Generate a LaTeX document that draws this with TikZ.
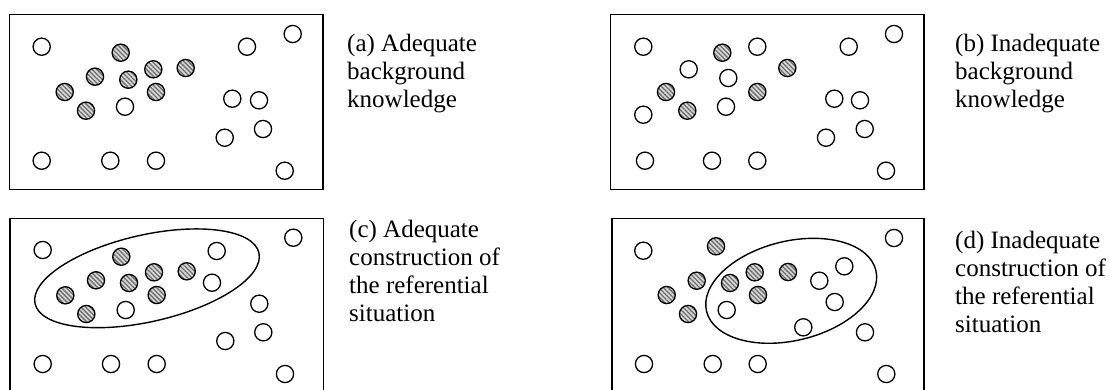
\documentclass[tikz,border=0pt]{standalone}
\usepackage{fontspec}
\setmainfont{Liberation Serif}
\usetikzlibrary{patterns.meta}
\tikzset{
  frame/.style={line width=1.4pt},
  dot/.style={line width=1.3pt},
  hatch/.style={line width=1.3pt,
    preaction={fill=gray!30},
    pattern={Lines[angle=-45,distance=3.2pt,line width=1.3pt]},
    pattern color=gray!85!black},
  ring/.style={line width=1.4pt},
  caption/.style={anchor=north west,inner sep=0pt,align=left,
    font=\fontsize{25}{28}\selectfont}
}
\begin{document}
\begin{tikzpicture}[x=1pt,y=-1pt]
\useasboundingbox (0,0) rectangle (1110,389);
\def\r{8.6}
% ---------- (a)
\draw[frame] (9.5,14.5) rectangle (323,189.5);
\foreach \x/\y in {41.7/46.7, 247/46.7, 292.7/34, 125/106.7, 232.3/98.7, 259/100.3,
  263/129, 224.7/137.7, 41.7/160.7, 110.3/160.7, 156/160.7, 284.7/170.7}
  \draw[dot] (\x,\y) circle[radius=\r];
\foreach \x/\y in {120.7/52.7, 95/76.7, 128.3/79.7, 153.3/69.3, 185.7/68,
  64.7/92, 156/92, 86/110.7}
  \draw[hatch] (\x,\y) circle[radius=\r];
\node[caption] (capa) at (347,34) {(a) Adequate\\background\\knowledge};
% ---------- (b)
\draw[frame] (610.7,14.5) rectangle (924,189.5);
\foreach \x/\y in {643.3/46.7, 757.3/46.7, 848.7/46.7, 894/34, 688.7/69.3, 728.3/78,
  726/106.7, 643.3/114.7, 834.3/98.7, 860/100.3, 864.7/129, 826/137.7,
  645/160.7, 712/160.7, 757.3/160.7, 886/170.7}
  \draw[dot] (\x,\y) circle[radius=\r];
\foreach \x/\y in {722.3/52.7, 787.3/68, 666/92, 757.3/92, 687.3/110.7}
  \draw[hatch] (\x,\y) circle[radius=\r];
\node[caption] (capb) at (955,34) {(b) Inadequate\\background\\knowledge};
% ---------- (c)
\draw[frame] (10,392) -- (10,218.3) -- (323.3,218.3) -- (323.3,392);
\draw[ring] (147,278.3) circle[x radius=114.8pt, y radius=43.4pt, rotate=12.8];
\foreach \x/\y in {42.7/250, 293.3/237.7, 216.7/251, 212/282.7, 125.7/310, 259.3/303.7,
  263.3/332.3, 225.3/341, 42.7/364, 111/364, 156.7/364, 285/374}
  \draw[dot] (\x,\y) circle[radius=\r];
\foreach \x/\y in {121.3/256.7, 96/280.3, 129/283, 154/272.3, 186.7/271.3,
  65.3/295.3, 156.7/295, 86.3/314}
  \draw[hatch] (\x,\y) circle[radius=\r];
\node[caption] (capc) at (349,220) {(c) Adequate\\construction of\\the referential\\situation};
% ---------- (d)
\draw[frame] (612,392) -- (612,218.3) -- (924,218.3) -- (924,392);
\draw[ring] (791.2,290.8) circle[x radius=87.1pt, y radius=49.7pt, rotate=13.6];
\foreach \x/\y in {643.3/250.7, 894/238, 844.3/266.3, 819.3/280.7, 834.7/302, 726.7/310,
  803.3/327.3, 865/332.3, 644/364, 712.7/364, 757.7/364, 886.3/374}
  \draw[dot] (\x,\y) circle[radius=\r];
\foreach \x/\y in {716/246.3, 696.7/280.7, 730/283, 754.7/272.3, 788/272,
  666.7/295, 758/295, 688/314}
  \draw[hatch] (\x,\y) circle[radius=\r];
\node[caption] (capd) at (955,231) {(d) Inadequate\\construction of\\the referential\\situation};
\end{tikzpicture}
\end{document}
